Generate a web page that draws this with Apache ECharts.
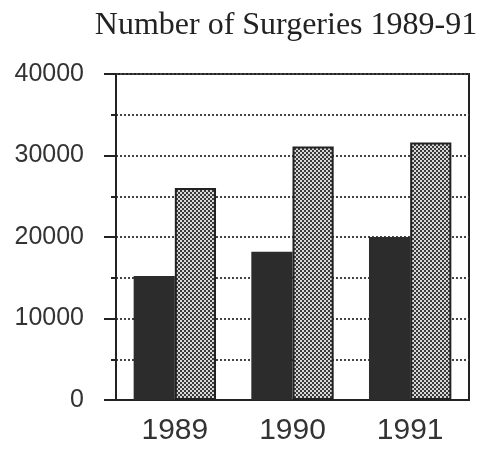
<!DOCTYPE html>
<html>
<head>
<meta charset="utf-8">
<script src="https://cdn.jsdelivr.net/npm/echarts@6/dist/echarts.min.js"></script>
<style>
  html, body { margin: 0; padding: 0; background: #fff; }
  #chart { width: 477px; height: 456px; }
</style>
</head>
<body>
<div id="chart"></div>
<script>
const years = ['1989', '1990', '1991'];
const darkValues = [15200, 18200, 20000];
const hatchedValues = [26000, 31100, 31600];
const yTicks = [0, 10000, 20000, 30000, 40000];

// small tile for the cross-hatched bars
function hatchTile() {
  const c = document.createElement('canvas');
  c.width = 4; c.height = 4;
  const g = c.getContext('2d');
  g.fillStyle = '#d8d8d8';
  g.fillRect(0, 0, 4, 4);
  g.fillStyle = '#3a3a3a';
  for (let i = 0; i < 4; i++) {
    g.fillRect(i, (3 - i), 1, 1);
    g.fillRect(i, (i + 2) % 4, 1, 1);
  }
  return c;
}

const myChart = echarts.init(document.getElementById('chart'));
const option = {
  animation: false,
  title: {
    text: 'Number of Surgeries 1989-91',
    left: 281,
    textAlign: 'center',
    top: 5,
    textStyle: { fontFamily: 'Liberation Serif', fontWeight: 'normal', fontSize: 32, color: '#222' }
  },
  grid: {
    left: 116, right: 8, top: 74, bottom: 56,
    show: true, borderColor: '#222', borderWidth: 2
  },
  xAxis: {
    type: 'category',
    data: years,
    axisLine: { lineStyle: { color: '#222', width: 2 } },
    axisTick: { alignWithLabel: true, length: 12, lineStyle: { color: '#222', width: 2 } },
    axisLabel: { fontFamily: 'Liberation Sans', fontSize: 30, color: '#333', margin: 16 }
  },
  yAxis: {
    type: 'value',
    min: yTicks[0],
    max: yTicks[yTicks.length - 1],
    interval: 10000,
    axisLine: { show: true, lineStyle: { color: '#222', width: 2 } },
    axisTick: { show: true, length: 12, lineStyle: { color: '#222', width: 2 } },
    minorTick: { show: true, splitNumber: 2, length: 5, lineStyle: { color: '#222', width: 2 } },
    axisLabel: {
      fontFamily: 'Liberation Sans', fontSize: 25, color: '#333', margin: 32,
      formatter: v => String(v)
    },
    splitLine: { lineStyle: { color: '#444', width: 2, type: [2, 2] } },
    minorSplitLine: { show: true, lineStyle: { color: '#444', width: 2, type: [2, 2] } }
  },
  series: [
    {
      type: 'bar',
      data: darkValues,
      barGap: '0%',
      barCategoryGap: '30%',
      itemStyle: { color: '#2c2c2c' },
      z: 3
    },
    {
      type: 'bar',
      data: hatchedValues,
      itemStyle: {
        color: { image: hatchTile(), repeat: 'repeat' },
        borderColor: '#222',
        borderWidth: 2
      },
      z: 3
    }
  ]
};
myChart.setOption(option);
</script>
</body>
</html>
